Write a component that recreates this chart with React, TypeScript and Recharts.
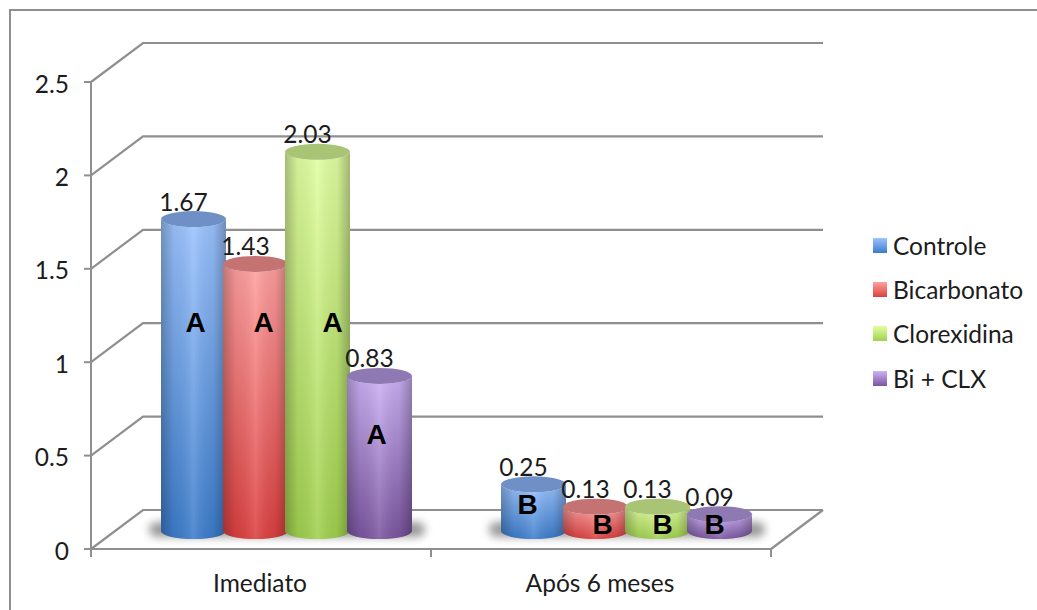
import { BarChart, Bar, XAxis, YAxis, CartesianGrid, Legend, LabelList } from "recharts";

const categories = ["Imediato", "Após 6 meses"];
const seriesNames = ["Controle", "Bicarbonato", "Clorexidina", "Bi + CLX"];
const controle = [1.67, 0.25];
const bicarbonato = [1.43, 0.13];
const clorexidina = [2.03, 0.13];
const biClx = [0.83, 0.09];
const groupLetters = ["A", "B"];
const yTicks = [0, 0.5, 1, 1.5, 2, 2.5];

const data = categories.map((name, i) => ({
  name,
  [seriesNames[0]]: controle[i],
  [seriesNames[1]]: bicarbonato[i],
  [seriesNames[2]]: clorexidina[i],
  [seriesNames[3]]: biClx[i],
}));

const WIDTH = 1037;
const HEIGHT = 610;
const X_AXIS_H = 30;
const MARGIN = { top: 82, right: 266, bottom: 61 - X_AXIS_H, left: 0 };
const AXIS_W = 91;
const BAND_W = (WIDTH - MARGIN.right - AXIS_W) / categories.length;
const FLOOR_Y = HEIGHT - 61;

// fake 3D: back wall offset and where the cylinders stand on the floor
const WALL_DX = 52;
const WALL_DY = 39;
const WALL_RIGHT = 823;
const BAR_DX = 25;
const BAR_DY = 18;
const CAP_RY = 8;

const GRID = "#8f8f8f";
const INK = "#1c1c1c";
const FONT = "Lato, 'Open Sans', sans-serif";
const FONT_SIZE = 24.5;

const palette = [
  { light: "#9cc4ff", deep: "#3c7ccb", cap: "#6f90c6" },
  { light: "#ffa0a0", deep: "#dc3f3f", cap: "#c47272" },
  { light: "#e2ffa2", deep: "#a0d04e", cap: "#a8c474" },
  { light: "#cdb2f6", deep: "#7a559f", cap: "#8f79b2" },
];

// hand-placed significance letters, per series then per group: shift from bar centre, rise above base
const letterShift = [
  [[2, 209], [-6, 27]],
  [[8, 209], [7, 7]],
  [[15, 209], [5, 7]],
  [[-3, 97], [-5, 7]],
];

function gridLine(props: any) {
  const { x1, y1, key } = props;
  const y = y1;
  const isFloor = Math.abs(y - FLOOR_Y) < 1;
  return (
    <g key={key}>
      <path
        d={`M${x1} ${y} L${x1 + WALL_DX} ${y - WALL_DY} L${WALL_RIGHT} ${y - WALL_DY}`}
        fill="none"
        stroke={GRID}
        strokeWidth={2.2}
      />
      {isFloor && (
        <path
          d={`M${WALL_RIGHT} ${y - WALL_DY} L${WALL_RIGHT - WALL_DX} ${y}`}
          fill="none"
          stroke={GRID}
          strokeWidth={2.2}
        />
      )}
    </g>
  );
}

function Cylinder(seriesIndex: number) {
  return (props: any) => {
    const { x, y, width, height } = props;
    const left = x + BAR_DX;
    const top = y - BAR_DY;
    const base = top + height;
    const rx = width / 2;
    const c = palette[seriesIndex];
    const body = `M${left} ${top} L${left} ${base} A${rx} ${CAP_RY} 0 0 0 ${left + width} ${base} L${left + width} ${top} A${rx} ${CAP_RY} 0 0 1 ${left} ${top} Z`;
    return (
      <g>
        {/* first series lays the floor shadow under the whole group */}
        {seriesIndex === 0 && (
          <rect
            x={left - 12}
            y={base - 9}
            width={276}
            height={15}
            rx={8}
            fill="#6e6e6e"
            opacity={0.7}
            filter="url(#floorShadow)"
          />
        )}
        <path d={body} fill={`url(#body${seriesIndex})`} />
        <path d={body} fill="url(#roundShade)" />
        <ellipse cx={left + rx} cy={top} rx={rx} ry={CAP_RY} fill={c.cap} />
      </g>
    );
  };
}

function ValueLabel(props: any) {
  const { x, y, width, value } = props;
  return (
    <text
      x={x + BAR_DX + width / 2 - 10}
      y={y - BAR_DY - 18}
      textAnchor="middle"
      dominantBaseline="central"
      fontFamily={FONT}
      fontSize={FONT_SIZE}
      fill={INK}
    >
      {value}
    </text>
  );
}

function LetterLabel(seriesIndex: number) {
  return (props: any) => {
    const { x, y, width, height, index } = props;
    const [dx, rise] = letterShift[seriesIndex][index];
    return (
      <text
        x={x + BAR_DX + width / 2 + dx}
        y={y - BAR_DY + height - rise}
        textAnchor="middle"
        dominantBaseline="central"
        fontFamily="'Liberation Sans', Arial, sans-serif"
        fontWeight={700}
        fontSize={28}
        fill="#000"
      >
        {groupLetters[index]}
      </text>
    );
  };
}

function CategoryTick(props: any) {
  const { x, payload, index } = props;
  const edge = x - BAND_W / 2;
  return (
    <g>
      <line x1={edge} x2={edge} y1={FLOOR_Y - 1} y2={FLOOR_Y + 8} stroke={GRID} strokeWidth={2} />
      {index === categories.length - 1 && (
        <line x1={x + BAND_W / 2} x2={x + BAND_W / 2} y1={FLOOR_Y - 1} y2={FLOOR_Y + 8} stroke={GRID} strokeWidth={2} />
      )}
      <text x={x - 1} y={582} textAnchor="middle" dominantBaseline="central" fontFamily={FONT} fontSize={FONT_SIZE} fill={INK}>
        {payload.value}
      </text>
    </g>
  );
}

function LegendList() {
  return (
    <div style={{ fontFamily: FONT, fontSize: FONT_SIZE, color: INK }}>
      {seriesNames.map((name, i) => (
        <div key={name} style={{ display: "flex", alignItems: "center", height: 44.3, whiteSpace: "nowrap" }}>
          <span
            style={{
              width: 14,
              height: 15,
              marginRight: 6,
              background: `linear-gradient(${palette[i].light}, ${palette[i].deep})`,
            }}
          />
          {name}
        </div>
      ))}
    </div>
  );
}

export default function App() {
  return (
    <div style={{ position: "fixed", left: 0, top: 0, width: WIDTH, height: HEIGHT, background: "#fff", overflow: "hidden" }}>
      <div
        style={{
          position: "absolute",
          left: 9,
          top: 9,
          right: 0,
          bottom: 0,
          borderLeft: `2px solid ${GRID}`,
          borderTop: `2px solid ${GRID}`,
        }}
      />
      <BarChart
        width={WIDTH}
        height={HEIGHT}
        data={data}
        margin={MARGIN}
        barCategoryGap={45}
        barGap={-3}
      >
        <defs>
          {palette.map((c, i) => (
            <linearGradient key={i} id={`body${i}`} x1="0" y1="0" x2="0" y2="1">
              <stop offset="0" stopColor={c.light} />
              <stop offset="1" stopColor={c.deep} />
            </linearGradient>
          ))}
          <linearGradient id="roundShade" x1="0" y1="0" x2="1" y2="0">
            <stop offset="0" stopColor="#000" stopOpacity={0.26} />
            <stop offset="0.2" stopColor="#000" stopOpacity={0.06} />
            <stop offset="0.5" stopColor="#fff" stopOpacity={0.12} />
            <stop offset="0.8" stopColor="#000" stopOpacity={0.06} />
            <stop offset="1" stopColor="#000" stopOpacity={0.28} />
          </linearGradient>
          <filter id="floorShadow" x="-10%" y="-100%" width="120%" height="300%">
            <feGaussianBlur stdDeviation="4.5" />
          </filter>
        </defs>
        <CartesianGrid horizontal={gridLine} vertical={false} />
        <XAxis
          dataKey="name"
          height={X_AXIS_H}
          interval={0}
          tickLine={false}
          tick={CategoryTick}
          axisLine={{ stroke: GRID, strokeWidth: 2 }}
        />
        <YAxis
          width={AXIS_W}
          domain={[0, 2.5]}
          ticks={yTicks}
          tickSize={7}
          tickMargin={15}
          axisLine={{ stroke: GRID, strokeWidth: 2 }}
          tickLine={{ stroke: GRID, strokeWidth: 2 }}
          tick={{ fontFamily: FONT, fontSize: FONT_SIZE, fill: INK, dy: 2 }}
        />
        <Legend
          layout="horizontal"
          verticalAlign="middle"
          align="center"
          content={LegendList}
          wrapperStyle={{ left: 873, top: 223, width: 164 }}
        />
        {seriesNames.map((name, i) => (
          <Bar key={name} dataKey={name} shape={Cylinder(i)} isAnimationActive={false}>
            <LabelList dataKey={name} content={ValueLabel} />
            <LabelList dataKey={name} content={LetterLabel(i)} />
          </Bar>
        ))}
      </BarChart>
    </div>
  );
}
